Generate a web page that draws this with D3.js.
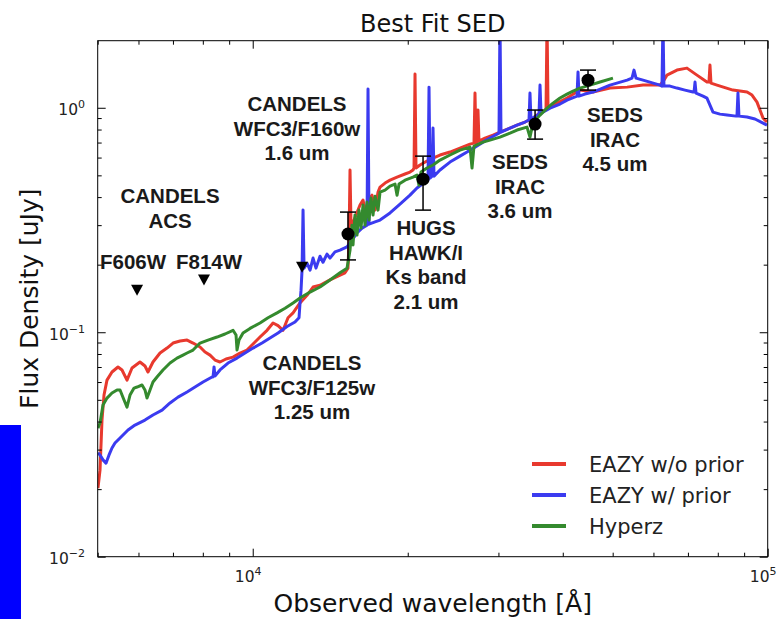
<!DOCTYPE html>
<html>
<head>
<meta charset="utf-8">
<script src="https://cdn.jsdelivr.net/npm/d3@7"></script>
<style>
body { margin: 0; background: #fff; }
svg { display: block; }
.annot { font-family: "Liberation Sans", Arial, sans-serif; font-weight: bold; font-size: 20.5px; fill: #1a1a1a; text-anchor: middle; }
.tick-label { font-family: "DejaVu Sans", sans-serif; font-size: 15.5px; fill: #222; }
</style>
</head>
<body>
<svg id="chart" width="779" height="619"></svg>
<script>

// SED model curves, [wavelength (A), flux density (uJy)]
var eazyNoPrior = [[5006,0.0202],[5052,0.0243],[5097,0.0406],[5143,0.0525],[5212,0.0612],[5330,0.0665],[5475,0.0700],[5574,0.0679],[5700,0.0612],[5829,0.0693],[6040,0.0737],[6177,0.0707],[6260,0.0665],[6402,0.0737],[6607,0.0808],[6817,0.0850],[7003,0.0895],[7226,0.0914],[7456,0.0923],[7658,0.0895],[7901,0.0859],[8080,0.0816],[8262,0.0791],[8448,0.0752],[8639,0.0737],[8875,0.0760],[9157,0.0775],[9448,0.0808],[9748,0.0833],[10014,0.0886],[10332,0.0952],[10661,0.102],[10950,0.110],[11198,0.107],[11451,0.102],[11710,0.116],[11976,0.122],[12355,0.135],[12747,0.146],[13096,0.159],[13510,0.162],[14128,0.171],[14641,0.178],[15108,0.184],[15311,0.193],[15381,0.257],[15450,0.528],[15519,0.300],[15589,0.300],[15870,0.333],[16156,0.369],[16375,0.388],[16596,0.333],[16745,0.388],[17048,0.408],[17279,0.350],[17512,0.421],[17670,0.443],[18069,0.462],[18477,0.476],[19065,0.491],[19757,0.507],[20203,0.517],[20477,0.528],[20569,0.539],[20661,1.413],[20753,0.539],[21127,0.556],[21797,0.579],[22392,0.597],[23104,0.616],[24158,0.635],[25262,0.661],[26417,0.689],[26895,0.696],[27016,1.163],[27136,0.700],[27257,0.700],[27380,0.977],[27500,0.710],[28247,0.733],[29275,0.756],[30209,0.779],[31591,0.812],[32598,0.837],[33787,0.864],[35019,0.900],[36131,0.947],[36948,0.977],[37113,0.980],[37283,2.46],[37446,0.997],[38637,1.039],[40766,1.105],[42248,1.163],[43202,1.199],[45792,1.175],[49400,1.224],[53335,1.236],[57269,1.262],[61775,1.262],[62881,1.328],[63741,1.398],[66652,1.472],[69697,1.502],[72880,1.398],[76212,1.302],[76900,1.302],[77250,1.550],[77600,1.288],[79712,1.262],[85600,1.199],[91170,1.175],[93225,1.139],[95330,1.060],[97930,0.900],[99690,0.864]];

var eazyPrior = [[5006,0.0290],[5052,0.0284],[5120,0.0270],[5189,0.0261],[5260,0.0284],[5330,0.0305],[5402,0.0321],[5525,0.0338],[5726,0.0367],[5907,0.0386],[6177,0.0406],[6402,0.0428],[6667,0.0450],[6909,0.0484],[7161,0.0514],[7456,0.0542],[7726,0.0570],[8008,0.0600],[8337,0.0632],[8374,0.0632],[8412,0.0700],[8448,0.0638],[8639,0.0679],[8954,0.0729],[9322,0.0767],[9661,0.0808],[10014,0.0850],[10425,0.0895],[10803,0.0942],[11198,0.0992],[11658,0.106],[12081,0.111],[12300,0.116],[12355,0.135],[12411,0.154],[12467,0.189],[12523,0.350],[12580,0.193],[12747,0.203],[12922,0.189],[13096,0.214],[13270,0.193],[13510,0.218],[13692,0.205],[13940,0.223],[14128,0.214],[14446,0.228],[14773,0.232],[15244,0.240],[15589,0.257],[15940,0.277],[16301,0.291],[16670,0.300],[16745,1.211],[16820,0.303],[17279,0.310],[17670,0.316],[18477,0.340],[19320,0.372],[20203,0.408],[20845,0.439],[21608,0.467],[21899,0.476],[21996,1.236],[22093,0.486],[22293,0.496],[22392,0.812],[22491,0.496],[23104,0.528],[24158,0.573],[25262,0.609],[26069,0.635],[27016,0.668],[28003,0.703],[28893,0.733],[30077,0.771],[30209,2.46],[30343,0.779],[31591,0.812],[32598,0.837],[33787,0.864],[34396,0.882],[34545,1.163],[34700,0.882],[35019,0.900],[35966,0.937],[36131,1.262],[36290,0.947],[37784,0.997],[39509,1.039],[40766,1.082],[42630,1.127],[42820,1.442],[43012,1.127],[44170,1.151],[45792,1.175],[49400,1.262],[53335,1.328],[54512,1.356],[55003,1.472],[55498,1.356],[57269,1.328],[61775,1.262],[62330,1.249],[62608,2.46],[62881,1.249],[64600,1.249],[66652,1.224],[69073,1.199],[71614,1.175],[71935,1.175],[72255,1.302],[72582,1.163],[74885,1.127],[76212,1.105],[77250,1.028],[78301,0.957],[80782,0.937],[83368,0.928],[86770,0.918],[87160,0.918],[87550,1.163],[87940,0.918],[91170,0.909],[94470,0.891],[97930,0.855],[99690,0.837]];

var hyperz = [[5006,0.0374],[5052,0.0394],[5120,0.0474],[5212,0.0509],[5330,0.0536],[5451,0.0553],[5525,0.0553],[5625,0.0499],[5700,0.0464],[5777,0.0525],[5882,0.0564],[5962,0.0570],[6096,0.0582],[6177,0.0553],[6234,0.0509],[6318,0.0553],[6402,0.0600],[6518,0.0632],[6695,0.0679],[6909,0.0729],[7128,0.0767],[7322,0.0791],[7456,0.0808],[7658,0.0833],[7901,0.0895],[8188,0.0923],[8525,0.0952],[8835,0.0982],[9157,0.102],[9281,0.0972],[9322,0.0833],[9406,0.0923],[9576,0.0992],[9880,0.104],[10332,0.110],[10708,0.116],[11148,0.122],[11556,0.128],[11976,0.135],[12355,0.142],[12922,0.151],[13510,0.159],[14128,0.171],[14773,0.184],[15244,0.193],[15450,0.232],[15589,0.300],[15659,0.245],[15799,0.333],[15940,0.271],[16084,0.350],[16229,0.291],[16375,0.369],[16522,0.300],[16670,0.380],[16820,0.316],[16970,0.396],[17124,0.333],[17279,0.404],[17512,0.350],[17670,0.421],[18069,0.430],[18477,0.448],[18894,0.457],[19065,0.408],[19236,0.457],[19757,0.476],[20477,0.491],[20845,0.501],[21030,0.452],[21220,0.517],[21797,0.539],[22392,0.556],[23104,0.585],[24158,0.616],[25262,0.648],[26417,0.668],[26660,0.539],[26895,0.675],[28003,0.703],[28893,0.718],[30209,0.740],[31591,0.771],[32598,0.796],[34090,0.820],[34545,0.740],[35019,0.855],[36131,0.928],[37283,0.997],[38290,1.049],[39509,1.105],[40766,1.151],[41880,1.187],[43202,1.224],[45186,1.262],[47250,1.302],[50064,1.356]];

var seriesNames = ["EAZY w/o prior", "EAZY w/ prior", "Hyperz"];
var seriesColors = ["#e8392e", "#3b3bf0", "#348a2e"];

// measured photometry with error bars
var photWave = [15311, 21416, 35340, 44780];
var photFlux = [0.274, 0.481, 0.846, 1.328];
var photLow = [0.210, 0.350, 0.725, 1.199];
var photHigh = [0.343, 0.609, 0.977, 1.472];

// upper limits (F606W, F814W, F125W)
var limitWave = [5962, 8042, 12467];
var limitFlux = [0.154, 0.171, 0.195];

// band annotations
var annotText = [["CANDELS", "ACS"], ["F606W"], ["F814W"], ["CANDELS", "WFC3/F160w", "1.6 um"], ["CANDELS", "WFC3/F125w", "1.25 um"], ["HUGS", "HAWK/I", "Ks band", "2.1 um"], ["SEDS", "IRAC", "3.6 um"], ["SEDS", "IRAC", "4.5 um"]];
var annotWave = [6909, 5856, 8224, 12190, 13034, 21703, 33036, 50510];
var annotFlux = [0.404, 0.2055, 0.2055, 1.039, 0.0729, 0.291, 0.573, 0.928];

// axis ticks
var xMajor = [1e4, 1e5];
var xExp = ["4", "5"];
var yMajor = [0.01, 0.1, 1];
var yExp = ["\u22122", "\u22121", "0"];

var svg = d3.select("#chart");
var pLeft = 97.7, pRight = 767.7, pTop = 40.7, pBottom = 556.7;

var x = d3.scaleLog().domain([5000, 1e5]).range([pLeft, pRight]);
var y = d3.scaleLog().domain([0.01, 1.99]).range([pBottom, pTop]);

// blue block at the lower left edge of the picture
svg.append("rect").attr("x", 0).attr("y", 425).attr("width", 21).attr("height", 194).attr("fill", "#0000ff");

svg.append("clipPath").attr("id", "plot-clip")
  .append("rect").attr("x", pLeft).attr("y", pTop).attr("width", pRight - pLeft).attr("height", pBottom - pTop);

var plot = svg.append("g").attr("clip-path", "url(#plot-clip)");

var line = d3.line()
  .x(function(d) { return x(d[0]); })
  .y(function(d) { return y(d[1]); });

[eazyNoPrior, eazyPrior, hyperz].forEach(function(s, i) {
  plot.append("path")
    .datum(s)
    .attr("d", line)
    .attr("fill", "none")
    .attr("stroke", seriesColors[i])
    .attr("stroke-width", 3)
    .attr("stroke-linejoin", "round");
});

// upper limit triangles
svg.selectAll(".limit")
  .data(limitWave)
  .enter().append("path")
    .attr("class", "limit")
    .attr("transform", function(d, i) { return "translate(" + x(d) + "," + y(limitFlux[i]) + ")"; })
    .attr("d", "M-6,-5.5L6,-5.5L0,5.5Z")
    .attr("fill", "#000");

// error bars + points
var phot = svg.selectAll(".phot").data(photWave).enter().append("g").attr("class", "phot");
phot.append("line")
  .attr("x1", function(d) { return x(d); }).attr("x2", function(d) { return x(d); })
  .attr("y1", function(d, i) { return y(photLow[i]); }).attr("y2", function(d, i) { return y(photHigh[i]); })
  .attr("stroke", "#000").attr("stroke-width", 1.5);
phot.append("line")
  .attr("x1", function(d) { return x(d) - 8; }).attr("x2", function(d) { return x(d) + 8; })
  .attr("y1", function(d, i) { return y(photLow[i]); }).attr("y2", function(d, i) { return y(photLow[i]); })
  .attr("stroke", "#000").attr("stroke-width", 1.5);
phot.append("line")
  .attr("x1", function(d) { return x(d) - 8; }).attr("x2", function(d) { return x(d) + 8; })
  .attr("y1", function(d, i) { return y(photHigh[i]); }).attr("y2", function(d, i) { return y(photHigh[i]); })
  .attr("stroke", "#000").attr("stroke-width", 1.5);
phot.append("circle")
  .attr("cx", function(d) { return x(d); })
  .attr("cy", function(d, i) { return y(photFlux[i]); })
  .attr("r", 6.5)
  .attr("fill", "#000");

// annotations
annotText.forEach(function(lines, i) {
  var t = svg.append("text").attr("class", "annot");
  lines.forEach(function(s, j) {
    t.append("tspan")
      .attr("x", x(annotWave[i]))
      .attr("y", y(annotFlux[i]) + 7.3 + j * 24.5)
      .text(s);
  });
});

// axes, ticks pointing inward on all four sides
var xMinor = x.ticks().filter(function(d) { return xMajor.indexOf(d) < 0; });
var yMinor = y.ticks().filter(function(d) { return yMajor.indexOf(d) < 0 && d < 1.99; });

function addAxis(axisFn, pos, scale, values, size) {
  var g = svg.append("g")
    .attr("transform", pos)
    .call(axisFn(scale).tickValues(values).tickSizeInner(-size).tickSizeOuter(0).tickFormat(""));
  g.select(".domain").remove();
  g.selectAll("line").attr("stroke", "#000");
}
addAxis(d3.axisBottom, "translate(0," + pBottom + ")", x, xMajor, 8);
addAxis(d3.axisBottom, "translate(0," + pBottom + ")", x, xMinor, 4);
addAxis(d3.axisTop, "translate(0," + pTop + ")", x, xMajor, 8);
addAxis(d3.axisTop, "translate(0," + pTop + ")", x, xMinor, 4);
addAxis(d3.axisLeft, "translate(" + pLeft + ",0)", y, yMajor, 8);
addAxis(d3.axisLeft, "translate(" + pLeft + ",0)", y, yMinor, 4);
addAxis(d3.axisRight, "translate(" + pRight + ",0)", y, yMajor, 8);
addAxis(d3.axisRight, "translate(" + pRight + ",0)", y, yMinor, 4);

svg.append("rect")
  .attr("x", pLeft).attr("y", pTop)
  .attr("width", pRight - pLeft).attr("height", pBottom - pTop)
  .attr("fill", "none").attr("stroke", "#000").attr("stroke-width", 1);

// tick labels 10^n (sitting a little left of the tick, as in the source figure)
xMajor.forEach(function(v, i) {
  var t = svg.append("text").attr("class", "tick-label")
    .attr("x", x(v) - 4.5).attr("y", 582).attr("text-anchor", "middle");
  t.append("tspan").text("10");
  t.append("tspan").attr("font-size", "11px").attr("dy", -7).text(xExp[i]);
});
yMajor.forEach(function(v, i) {
  var t = svg.append("text").attr("class", "tick-label")
    .attr("x", 85).attr("y", y(v) + 7.5).attr("text-anchor", "end");
  t.append("tspan").text("10");
  t.append("tspan").attr("font-size", "11px").attr("dy", -7).text(yExp[i]);
});

// titles
svg.append("text")
  .attr("x", (pLeft + pRight) / 2).attr("y", 32)
  .attr("text-anchor", "middle")
  .style("font-family", "DejaVu Sans, sans-serif").style("font-size", "24px").style("fill", "#111")
  .text("Best Fit SED");

svg.append("text")
  .attr("x", (pLeft + pRight) / 2).attr("y", 612)
  .attr("text-anchor", "middle")
  .style("font-family", "DejaVu Sans, sans-serif").style("font-size", "25px").style("fill", "#111")
  .text("Observed wavelength [\u00C5]");

svg.append("text")
  .attr("transform", "translate(38," + ((pTop + pBottom) / 2) + ") rotate(-90)")
  .attr("text-anchor", "middle")
  .style("font-family", "DejaVu Sans, sans-serif").style("font-size", "25px").style("fill", "#111")
  .text("Flux Density [uJy]");

// legend
var legend = svg.append("g").attr("transform", "translate(532,464)");
seriesNames.forEach(function(name, i) {
  legend.append("line")
    .attr("x1", 0).attr("x2", 34)
    .attr("y1", i * 31).attr("y2", i * 31)
    .attr("stroke", seriesColors[i]).attr("stroke-width", 4);
  legend.append("text")
    .attr("x", 57).attr("y", i * 31 + 8)
    .style("font-family", "DejaVu Sans, sans-serif").style("font-size", "21px").style("fill", "#222")
    .text(name);
});

</script>
</body>
</html>
